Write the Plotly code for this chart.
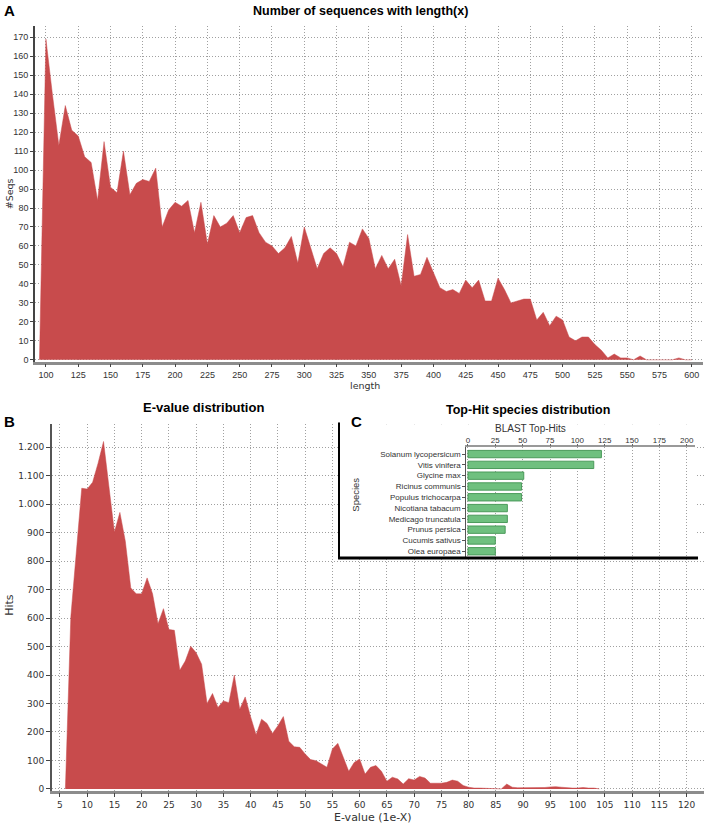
import plotly.graph_objects as go

W, H = 708, 829


def px(x):
    return x / W


def py(y):
    return 1 - y / H


# ---------------- data ----------------
length_bins = list(range(95, 605, 5))
length_counts = [
    0, 169, 140, 113, 134, 121, 118, 107, 104, 84,
    115, 91, 88, 110, 87, 93, 95, 94, 101, 70,
    79, 83, 81, 84, 67, 83, 61, 76, 70, 72,
    76, 67, 75, 76, 67, 62, 60, 56, 59, 65,
    51, 70, 59, 48, 56, 59, 56, 49, 62, 60,
    69, 64, 48, 55, 48, 53, 39, 66, 44, 45,
    54, 46, 38, 36, 37, 35, 42, 38, 42, 31,
    31, 43, 37, 30, 31, 32, 32, 21, 25, 18,
    23, 21, 12, 10, 12, 12, 8, 5, 1, 3,
    1, 1, 0, 2, 0, 0, 0, 0, 0, 1,
    0, 0,
]

evalue_bins = list(range(6, 105))
evalue_hits = [
    0, 605, 830, 1056, 1053, 1077, 1144, 1220, 1060, 902,
    971, 870, 706, 685, 685, 741, 685, 580, 633, 560,
    557, 417, 449, 501, 478, 438, 300, 335, 286, 309,
    303, 400, 280, 323, 253, 190, 245, 230, 195, 222,
    254, 167, 148, 146, 123, 103, 99, 88, 76, 140,
    160, 111, 62, 93, 105, 52, 76, 82, 62, 27,
    41, 35, 17, 36, 31, 44, 38, 20, 20, 20,
    23, 31, 27, 12, 6, 3, 3, 2, 0, 0,
    0, 17, 6, 4, 4, 3, 3, 4, 5, 7,
    8, 6, 4, 3, 3, 5, 3, 3, 0,
]

species = [
    "Solanum lycopersicum", "Vitis vinifera", "Glycine max",
    "Ricinus communis", "Populus trichocarpa", "Nicotiana tabacum",
    "Medicago truncatula", "Prunus persica", "Cucumis sativus",
    "Olea europaea",
]
species_hits = [122, 115, 51, 49, 49, 36, 36, 34, 25, 25]

len_xticks = list(range(100, 601, 25))
len_yticks = list(range(0, 171, 10))
ev_xticks = list(range(5, 121, 5))
ev_yticks = list(range(0, 1201, 100))
ev_yticktext = [f"{v:,}".replace(",", ".") for v in ev_yticks]
sp_xticks = list(range(0, 201, 25))

RED = "#C84B4C"
GREEN = "#6FC07F"
GREEN_EDGE = "#4A9A5A"

fig = go.Figure()
fig.add_trace(go.Scatter(
    x=length_bins, y=length_counts, mode="lines", fill="tozeroy",
    line=dict(color=RED, width=0.5), fillcolor=RED,
    xaxis="x", yaxis="y", hoverinfo="skip", showlegend=False))
fig.add_trace(go.Scatter(
    x=evalue_bins, y=evalue_hits, mode="lines", fill="tozeroy",
    line=dict(color=RED, width=0.5), fillcolor=RED,
    xaxis="x2", yaxis="y2", hoverinfo="skip", showlegend=False))
fig.add_trace(go.Bar(
    x=species_hits, y=species, orientation="h", width=0.68,
    marker=dict(color=GREEN, line=dict(color=GREEN_EDGE, width=1)),
    xaxis="x3", yaxis="y3", hoverinfo="skip", showlegend=False))

grid = dict(showgrid=True, gridcolor="#a0a0a0", griddash="1px,2px",
            gridwidth=1, zeroline=False)
fA = dict(family="Liberation Sans", size=9, color="#333")
fB = dict(family="DejaVu Sans", size=9, color="#333")
fC = dict(family="Liberation Sans", size=8, color="#333")

fig.update_layout(
    width=W, height=H, margin=dict(l=0, r=0, t=0, b=0),
    paper_bgcolor="white", plot_bgcolor="white", showlegend=False,
    bargap=0.3,
    xaxis=dict(domain=[px(34), px(703)], range=[91.5, 608.7], anchor="y",
               tickvals=len_xticks, ticks="outside", ticklen=3,
               tickcolor="#444", showline=True, linecolor="#8c8c8c",
               linewidth=2.5, tickfont=fA, **grid),
    yaxis=dict(domain=[py(363), py(26)], range=[-1, 176], anchor="x",
               tickvals=len_yticks, ticks="outside", ticklen=3,
               tickcolor="#444", showline=True, linecolor="#444",
               linewidth=1.5, tickfont=fA, **grid),
    xaxis2=dict(domain=[px(51), px(704)], range=[3.53, 123.2], anchor="y2",
                tickvals=ev_xticks, ticks="outside", ticklen=4,
                tickcolor="#444", showline=True, linecolor="#8c8c8c",
                linewidth=2.5, tickfont=fB, **grid),
    yaxis2=dict(domain=[py(793.5), py(425.7)], range=[-6, 1281],
                anchor="x2", tickvals=ev_yticks, ticktext=ev_yticktext,
                ticks="outside", ticklen=4, tickcolor="#444",
                showline=True, linecolor="#555", linewidth=2,
                tickfont=fB, **grid),
    xaxis3=dict(domain=[px(466), px(695)], range=[-1.5, 207.6],
                anchor="y3", side="top", tickvals=sp_xticks,
                ticks="outside", ticklen=2, tickcolor="#666",
                showline=True, linecolor="#999", linewidth=1.5,
                ticklabelstandoff=-3, tickfont=fC, **grid),
    yaxis3=dict(domain=[py(560), py(449)], range=[9.62, -0.62],
                anchor="x3", type="category", ticks="outside", ticklen=3,
                tickcolor="#555", showline=True, linecolor="#555",
                linewidth=1, showgrid=False, zeroline=False, tickfont=fC),
)

# white inset background (covers panel B grid, below panel C)
fig.add_shape(type="rect", xref="x2", yref="y2", x0=56.3, x1=121.5,
              y0=811, y1=1320, fillcolor="white", line=dict(width=0),
              layer="between")
# inset frame
fig.add_shape(type="line", xref="paper", yref="paper",
              x0=px(338.5), x1=px(338.5), y0=py(560), y1=py(424),
              line=dict(color="black", width=2), layer="above")
fig.add_shape(type="line", xref="paper", yref="paper",
              x0=px(337.5), x1=px(698), y0=py(560), y1=py(560),
              line=dict(color="black", width=3), layer="above")


def ann(text, x, y, font, angle=0):
    fig.add_annotation(text=text, x=px(x), y=py(y), xref="paper",
                       yref="paper", showarrow=False, xanchor="center",
                       yanchor="middle", textangle=angle, font=font)


bold = "Liberation Sans"
ann("<b>A</b>", 9, 11, dict(family=bold, size=15, color="black"))
ann("<b>B</b>", 9, 423, dict(family=bold, size=15, color="black"))
ann("<b>C</b>", 356, 423, dict(family=bold, size=15, color="black"))
ann("<b>Number of sequences with length(x)</b>", 360, 11,
    dict(family=bold, size=12.5, color="black"))
ann("<b>E-value distribution</b>", 203, 409,
    dict(family=bold, size=13, color="black"))
ann("<b>Top-Hit species distribution</b>", 528, 411,
    dict(family=bold, size=12.5, color="black"))
ann("#Seqs", 8, 194, dict(family="DejaVu Sans", size=9.5, color="#333"), -90)
ann("length", 364.5, 387, dict(family="DejaVu Sans", size=9.5, color="#333"))
ann("Hits", 9, 607, dict(family="DejaVu Sans", size=11, color="#333"), -90)
ann("E-value (1e-X)", 372, 820,
    dict(family="DejaVu Sans", size=11, color="#333"))
ann("BLAST Top-Hits", 530, 430,
    dict(family="Liberation Sans", size=10, color="#333"))
ann("Species", 355, 496,
    dict(family="Liberation Sans", size=9.5, color="#333"), -90)

fig.write_html(
    "out.html",
    config={"displayModeBar": False},
    post_script="document.body.style.margin='0px';"
                "document.body.style.overflow='hidden';",
)
